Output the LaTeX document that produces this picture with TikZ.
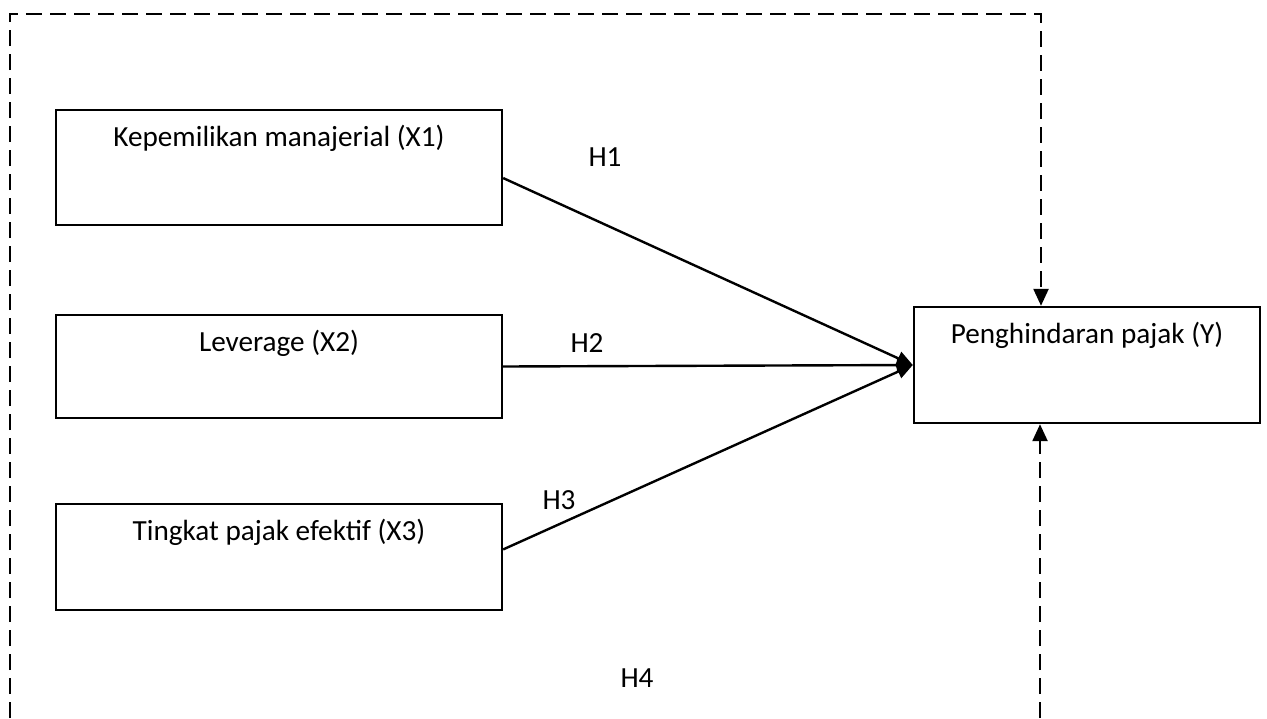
\documentclass[tikz,border=0pt]{standalone}
\usepackage{fontspec}
\setmainfont{Carlito}
\usetikzlibrary{arrows.meta,calc}

\tikzset{
  var/.style={draw,line width=1.2pt,minimum width=223pt,inner sep=0pt,
    label={[anchor=base,yshift=-19pt]north:#1}},
  path arrow/.style={line width=1.2pt,-{Triangle[length=8pt,width=7pt]}},
  frame/.style={line width=1.2pt,dash pattern=on 8pt off 4pt,
    -{Triangle[length=8.5pt,width=7.5pt]}},
}

\begin{document}
\begin{tikzpicture}[x=0.5pt,y=-0.5pt,font=\fontsize{14.6}{17}\selectfont]
  \useasboundingbox (0,0) rectangle (1267,718);

  % variables
  \node[var={Kepemilikan manajerial (X1)},minimum height=57.5pt] (x1) at (279,167.5) {};
  \node[var={Leverage (X2)},minimum height=51.5pt] (x2) at (279,366.5) {};
  \node[var={Tingkat pajak efektif (X3)},minimum height=53pt] (x3) at (279,557) {};
  \node[var={Penghindaran pajak (Y)},minimum width=173pt,minimum height=58pt] (y) at (1087,365) {};

  % hypotheses H1--H3
  \draw[path arrow] ($(x1.north east)!0.59!(x1.south east)$) -- (y.west);
  \draw[path arrow] (x2.east) -- (y.west);
  \draw[path arrow] ($(x3.north east)!0.43!(x3.south east)$) -- (y.west);

  % simultaneous H4
  \coordinate (fbl) at (10,718);
  \coordinate (ftl) at (10,14);
  \coordinate (ftr) at (1041,14);
  \coordinate (fbr) at (1040,718);
  \draw[frame] (fbl) -- (ftl) -- (ftr) -- (ftr |- y.north);
  \draw[frame] (fbr) -- (fbr |- y.south);

  \node (h1) at (605,157) {H1};
  \node (h2) at (587,343) {H2};
  \node (h3) at (559,500) {H3};
  \node (h4) at (637,678) {H4};
\end{tikzpicture}
\end{document}
